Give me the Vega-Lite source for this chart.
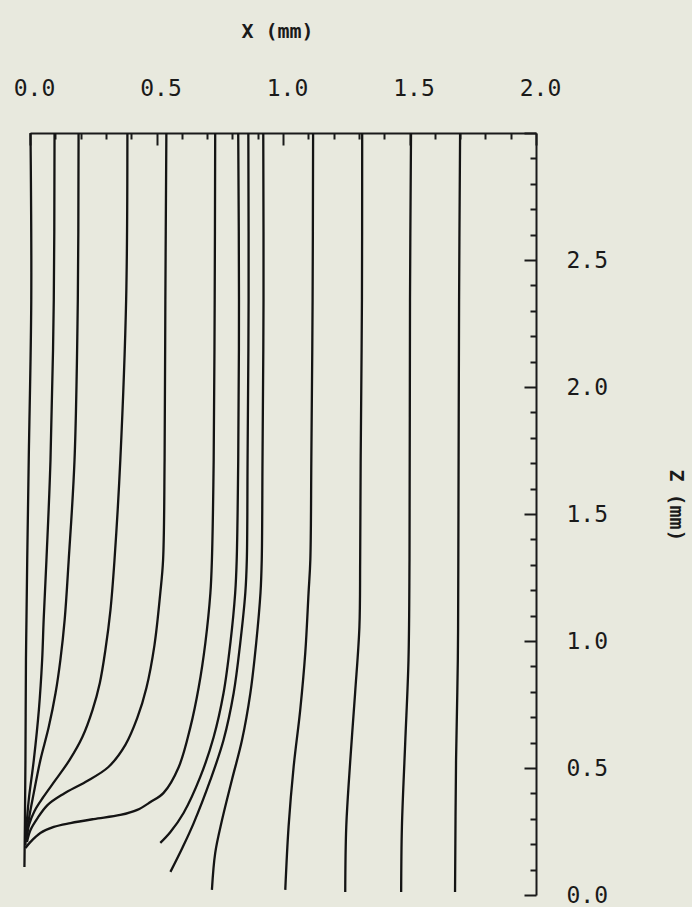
{
  "$schema": "https://vega.github.io/schema/vega-lite/v6.json",
  "width": 506,
  "height": 762,
  "autosize": {"type": "none"},
  "padding": {"left": 30, "top": 133, "right": 156, "bottom": 12},
  "background": "#e8e9de",
  "config": {"view": {"stroke": null}},
  "data": {"values": [
    {"s":1,"i":0,"x":0.002,"z":3.0},{"s":1,"i":1,"x":0.005,"z":2.343},{"s":1,"i":2,"x":-0.005,"z":1.713},{"s":1,"i":3,"x":-0.011,"z":1.319},{"s":1,"i":4,"x":-0.014,"z":1.083},{"s":1,"i":5,"x":-0.016,"z":0.925},{"s":1,"i":6,"x":-0.018,"z":0.531},{"s":1,"i":7,"x":-0.020,"z":0.295},{"s":1,"i":8,"x":-0.022,"z":0.110},
    {"s":2,"i":0,"x":0.097,"z":3.0},{"s":2,"i":1,"x":0.094,"z":2.343},{"s":2,"i":2,"x":0.081,"z":1.713},{"s":2,"i":3,"x":0.065,"z":1.319},{"s":2,"i":4,"x":0.054,"z":1.083},{"s":2,"i":5,"x":0.048,"z":0.925},{"s":2,"i":6,"x":0.035,"z":0.728},{"s":2,"i":7,"x":0.015,"z":0.531},{"s":2,"i":8,"x":-0.005,"z":0.374},{"s":2,"i":9,"x":-0.014,"z":0.268},{"s":2,"i":10,"x":-0.018,"z":0.197},
    {"s":3,"i":0,"x":0.192,"z":3.0},{"s":3,"i":1,"x":0.189,"z":2.343},{"s":3,"i":2,"x":0.176,"z":1.713},{"s":3,"i":3,"x":0.153,"z":1.319},{"s":3,"i":4,"x":0.137,"z":1.083},{"s":3,"i":5,"x":0.120,"z":0.925},{"s":3,"i":6,"x":0.101,"z":0.795},{"s":3,"i":7,"x":0.074,"z":0.661},{"s":3,"i":8,"x":0.041,"z":0.531},{"s":3,"i":9,"x":0.015,"z":0.402},{"s":3,"i":10,"x":-0.005,"z":0.295},{"s":3,"i":11,"x":-0.014,"z":0.217},
    {"s":4,"i":0,"x":0.385,"z":3.0},{"s":4,"i":1,"x":0.380,"z":2.343},{"s":4,"i":2,"x":0.357,"z":1.713},{"s":4,"i":3,"x":0.334,"z":1.319},{"s":4,"i":4,"x":0.318,"z":1.122},{"s":4,"i":5,"x":0.298,"z":0.965},{"s":4,"i":6,"x":0.276,"z":0.835},{"s":4,"i":7,"x":0.247,"z":0.728},{"s":4,"i":8,"x":0.207,"z":0.622},{"s":4,"i":9,"x":0.156,"z":0.531},{"s":4,"i":10,"x":0.101,"z":0.453},{"s":4,"i":11,"x":0.053,"z":0.386},{"s":4,"i":12,"x":0.018,"z":0.331},{"s":4,"i":13,"x":-0.004,"z":0.276},{"s":4,"i":14,"x":-0.014,"z":0.217},
    {"s":5,"i":0,"x":0.539,"z":3.0},{"s":5,"i":1,"x":0.535,"z":2.343},{"s":5,"i":2,"x":0.532,"z":1.713},{"s":5,"i":3,"x":0.526,"z":1.319},{"s":5,"i":4,"x":0.515,"z":1.189},{"s":5,"i":5,"x":0.492,"z":0.984},{"s":5,"i":6,"x":0.460,"z":0.815},{"s":5,"i":7,"x":0.424,"z":0.697},{"s":5,"i":8,"x":0.377,"z":0.591},{"s":5,"i":9,"x":0.310,"z":0.504},{"s":5,"i":10,"x":0.219,"z":0.445},{"s":5,"i":11,"x":0.132,"z":0.398},{"s":5,"i":12,"x":0.069,"z":0.354},{"s":5,"i":13,"x":0.030,"z":0.303},{"s":5,"i":14,"x":0.002,"z":0.256},{"s":5,"i":15,"x":-0.012,"z":0.209},
    {"s":6,"i":0,"x":0.732,"z":3.0},{"s":6,"i":1,"x":0.730,"z":2.343},{"s":6,"i":2,"x":0.726,"z":1.713},{"s":6,"i":3,"x":0.719,"z":1.319},{"s":6,"i":4,"x":0.713,"z":1.189},{"s":6,"i":5,"x":0.693,"z":0.992},{"s":6,"i":6,"x":0.667,"z":0.819},{"s":6,"i":7,"x":0.634,"z":0.661},{"s":6,"i":8,"x":0.588,"z":0.504},{"s":6,"i":9,"x":0.528,"z":0.402},{"s":6,"i":10,"x":0.476,"z":0.366},{"s":6,"i":11,"x":0.424,"z":0.335},{"s":6,"i":12,"x":0.357,"z":0.315},{"s":6,"i":13,"x":0.252,"z":0.299},{"s":6,"i":14,"x":0.160,"z":0.283},{"s":6,"i":15,"x":0.094,"z":0.268},{"s":6,"i":16,"x":0.041,"z":0.244},{"s":6,"i":17,"x":0.002,"z":0.209},{"s":6,"i":18,"x":-0.018,"z":0.185},
    {"s":7,"i":0,"x":0.823,"z":3.0},{"s":7,"i":1,"x":0.826,"z":2.343},{"s":7,"i":2,"x":0.823,"z":1.713},{"s":7,"i":3,"x":0.817,"z":1.319},{"s":7,"i":4,"x":0.811,"z":1.189},{"s":7,"i":5,"x":0.792,"z":0.992},{"s":7,"i":6,"x":0.765,"z":0.795},{"s":7,"i":7,"x":0.726,"z":0.622},{"s":7,"i":8,"x":0.673,"z":0.465},{"s":7,"i":9,"x":0.607,"z":0.323},{"s":7,"i":10,"x":0.555,"z":0.248},{"s":7,"i":11,"x":0.515,"z":0.205},
    {"s":8,"i":0,"x":0.863,"z":3.0},{"s":8,"i":1,"x":0.864,"z":2.343},{"s":8,"i":2,"x":0.860,"z":1.713},{"s":8,"i":3,"x":0.857,"z":1.319},{"s":8,"i":4,"x":0.851,"z":1.189},{"s":8,"i":5,"x":0.831,"z":0.992},{"s":8,"i":6,"x":0.805,"z":0.795},{"s":8,"i":7,"x":0.765,"z":0.610},{"s":8,"i":8,"x":0.713,"z":0.453},{"s":8,"i":9,"x":0.647,"z":0.283},{"s":8,"i":10,"x":0.602,"z":0.185},{"s":8,"i":11,"x":0.555,"z":0.091},
    {"s":9,"i":0,"x":0.922,"z":3.0},{"s":9,"i":1,"x":0.923,"z":2.343},{"s":9,"i":2,"x":0.919,"z":1.713},{"s":9,"i":3,"x":0.916,"z":1.319},{"s":9,"i":4,"x":0.911,"z":1.189},{"s":9,"i":5,"x":0.894,"z":0.992},{"s":9,"i":6,"x":0.871,"z":0.795},{"s":9,"i":7,"x":0.838,"z":0.610},{"s":9,"i":8,"x":0.798,"z":0.453},{"s":9,"i":9,"x":0.759,"z":0.295},{"s":9,"i":10,"x":0.732,"z":0.165},{"s":9,"i":11,"x":0.719,"z":0.020},
    {"s":10,"i":0,"x":1.119,"z":3.0},{"s":10,"i":1,"x":1.117,"z":2.343},{"s":10,"i":2,"x":1.112,"z":1.713},{"s":10,"i":3,"x":1.108,"z":1.319},{"s":10,"i":4,"x":1.101,"z":1.189},{"s":10,"i":5,"x":1.088,"z":0.953},{"s":10,"i":6,"x":1.068,"z":0.728},{"s":10,"i":7,"x":1.042,"z":0.504},{"s":10,"i":8,"x":1.022,"z":0.268},{"s":10,"i":9,"x":1.009,"z":0.020},
    {"s":11,"i":0,"x":1.313,"z":3.0},{"s":11,"i":1,"x":1.312,"z":2.343},{"s":11,"i":2,"x":1.307,"z":1.713},{"s":11,"i":3,"x":1.305,"z":1.319},{"s":11,"i":4,"x":1.302,"z":1.055},{"s":11,"i":5,"x":1.285,"z":0.795},{"s":11,"i":6,"x":1.266,"z":0.531},{"s":11,"i":7,"x":1.250,"z":0.268},{"s":11,"i":8,"x":1.246,"z":0.012},
    {"s":12,"i":0,"x":1.506,"z":3.0},{"s":12,"i":1,"x":1.502,"z":2.343},{"s":12,"i":2,"x":1.500,"z":1.319},{"s":12,"i":3,"x":1.496,"z":0.925},{"s":12,"i":4,"x":1.483,"z":0.598},{"s":12,"i":5,"x":1.470,"z":0.268},{"s":12,"i":6,"x":1.467,"z":0.012},
    {"s":13,"i":0,"x":1.700,"z":3.0},{"s":13,"i":1,"x":1.696,"z":2.343},{"s":13,"i":2,"x":1.693,"z":1.319},{"s":13,"i":3,"x":1.691,"z":0.925},{"s":13,"i":4,"x":1.684,"z":0.531},{"s":13,"i":5,"x":1.680,"z":0.012}
  ]},
  "mark": {"type": "line", "interpolate": "catmull-rom", "color": "#141414", "strokeWidth": 2.3},
  "encoding": {
    "x": {
      "field": "x", "type": "quantitative",
      "scale": {"domain": [0, 2], "nice": false, "zero": false},
      "axis": {
        "orient": "top",
        "values": [0,0.1,0.2,0.3,0.4,0.5,0.6,0.7,0.8,0.9,1,1.1,1.2,1.3,1.4,1.5,1.6,1.7,1.8,1.9,2],
        "grid": false,
        "title": "X  (mm)",
        "titleFont": "DejaVu Sans Mono", "titleFontSize": 20, "titleFontWeight": "bold", "titleColor": "#1a1a1a",
        "titleX": 247, "titleY": -96, "titleAlign": "center", "titleBaseline": "alphabetic",
        "labelExpr": "abs(datum.value*2 - round(datum.value*2)) < 0.001 ? format(datum.value, '.1f') : ''",
        "labelFont": "DejaVu Sans Mono", "labelFontSize": 23, "labelColor": "#1a1a1a",
        "labelBaseline": "alphabetic", "labelAlign": "center", "labelPadding": 50, "labelOffset": 4,
        "labelFlush": false, "labelOverlap": false, "labelAngle": 0,
        "tickSize": {"condition": {"test": "abs(datum.value*2 - round(datum.value*2)) < 0.001", "value": -12}, "value": -6},
        "tickWidth": 2, "tickColor": "#1a1a1a",
        "domainColor": "#1a1a1a", "domainWidth": 2
      }
    },
    "y": {
      "field": "z", "type": "quantitative",
      "scale": {"domain": [0, 3], "nice": false, "zero": false},
      "axis": {
        "orient": "right",
        "values": [0,0.1,0.2,0.3,0.4,0.5,0.6,0.7,0.8,0.9,1,1.1,1.2,1.3,1.4,1.5,1.6,1.7,1.8,1.9,2,2.1,2.2,2.3,2.4,2.5,2.6,2.7,2.8,2.9,3],
        "grid": false,
        "title": "Z  (mm)",
        "titleFont": "DejaVu Sans Mono", "titleFontSize": 20, "titleFontWeight": "bold", "titleColor": "#1a1a1a",
        "titleAngle": 90, "titleX": 133, "titleY": 372, "titleAlign": "center", "titleBaseline": "alphabetic",
        "labelExpr": "(abs(datum.value*2 - round(datum.value*2)) < 0.001 && datum.value < 2.9) ? format(datum.value, '.1f') : ''",
        "labelFont": "DejaVu Sans Mono", "labelFontSize": 23, "labelColor": "#1a1a1a",
        "labelBaseline": "middle", "labelAlign": "left", "labelPadding": 42,
        "labelFlush": false, "labelOverlap": false, "labelAngle": 0,
        "tickSize": {"condition": {"test": "abs(datum.value*2 - round(datum.value*2)) < 0.001", "value": -12}, "value": -6},
        "tickWidth": 2, "tickColor": "#1a1a1a",
        "domainColor": "#1a1a1a", "domainWidth": 2
      }
    },
    "detail": {"field": "s", "type": "nominal"},
    "order": {"field": "i", "type": "quantitative"}
  }
}
